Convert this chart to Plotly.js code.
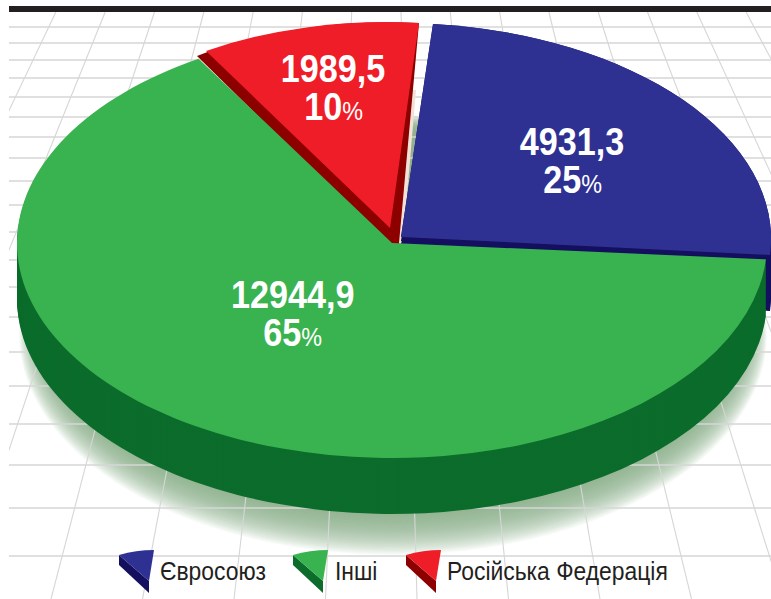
<!DOCTYPE html>
<html><head><meta charset="utf-8">
<script src="https://cdn.plot.ly/plotly-3.0.1.min.js"></script>
<style>html,body{margin:0;padding:0;background:#fff;overflow:hidden}</style>
</head><body><div id="chart" style="width:771px;height:599px"></div>
<script>
// ---- data ----
const categories = ['Євросоюз', 'Інші', 'Російська Федерація'];
const values = [4931.3, 12944.9, 1989.5];
const valueLabels = ['4931,3', '12944,9', '1989,5'];
const percentLabels = ['25', '65', '10'];
// ---- style ----
const topColors = ['#2e3192', '#39b34f', '#ef1d27'];
const sideColors = ['#14105f', '#0b6c2b', '#8c0000'];
const labelPos = [[572, 142, 180], [292, 295, 333], [333, 69, 107]];
const gridRows = [27,43,60,78,97,117,137,158,181,205,232,260,287,317,352,386,424,465,508,556];
const gridCols = [-8,-7,-6,-5,-4,-3,-2,-1,0,1,2,3,4,5,6,7,8];
const legendTextX = [160, 335, 447];
const iconX = [119, 293, 406];
const W = 771, H = 599, FONT = '"Liberation Sans",Arial,sans-serif';
const px = x => x / W, py = y => 1 - y / H;
const CLEAR = 'rgba(0,0,0,0)';
const ROT = 5;

function only(i, color) { return categories.map((_, k) => k === i ? color : CLEAR); }
function pie(colors, extra) {
  return Object.assign({
    type: 'pie', labels: categories, values: values, sort: false, direction: 'clockwise',
    rotation: ROT, textinfo: 'none', hoverinfo: 'skip', showlegend: false,
    marker: {colors: colors, line: {width: 0}}, domain: {x: [0, 1], y: [0, 1]}
  }, extra || {});
}
// slice boundary angles derived from the values
const total = values.reduce((a, b) => a + b, 0);
let acc = ROT; const bounds = values.map(v => { const a = acc; acc += v / total * 360; return [a, acc]; });
const unit = d => [Math.sin(d * Math.PI / 180), -Math.cos(d * Math.PI / 180)];
// linear map sending slice i's two edges onto the given vectors
function edgeMap(i, v1, v2) {
  const p1 = unit(bounds[i][0]), p2 = unit(bounds[i][1]);
  const det = p1[0] * p2[1] - p1[1] * p2[0];
  return {
    a: (v1[0] * p2[1] - v2[0] * p1[1]) / det, c: (v2[0] * p1[0] - v1[0] * p2[0]) / det,
    b: (v1[1] * p2[1] - v2[1] * p1[1]) / det, d: (v2[1] * p1[0] - v1[1] * p2[0]) / det
  };
}
const greenMap = {a: 375, b: 0, c: 0, d: 215};
const blueMap = edgeMap(0, [32, -213], [369, 18]);
const redMap = edgeMap(2, [-184, -177], [29, -205]);
const redWallMap = edgeMap(2, [-201, -198], [21, -231]);

const traces = [], placements = [];
function add(tr, x, y, m) { traces.push(tr); placements.push({x, y, m}); }
// legend-carrying base pie, tucked under the top faces
add(pie(topColors, {showlegend: true}), 393, 300, {a: 60, b: 0, c: 0, d: 40});
for (let o = 56; o >= 0; o -= 4) add(pie(only(0, sideColors[0])), 401, 237 + o, blueMap);
add(pie(only(2, sideColors[2])), 398, 254, redWallMap);
for (let o = 56; o > 0; o -= 2) add(pie(only(1, sideColors[1])), 392, 243 + o, greenMap);
add(pie(only(1, topColors[1])), 392, 243, greenMap);
add(pie(only(0, topColors[0])), 401, 237, blueMap);
add(pie(only(2, topColors[2])), 390, 228, redMap);

// ---- background ----
const shapes = [];
const haloSteps = 40;
for (let i = 0; i < haloSteps; i++) {
  const t = i / (haloSteps - 1), cx = 393, cy = 335 - 15 * t, rx = 374 - 24 * t, ry = 220 - 30 * t;
  shapes.push({type: 'circle', xref: 'paper', yref: 'paper', layer: 'below',
    x0: px(cx - rx), x1: px(cx + rx), y0: py(cy + ry), y1: py(cy - ry),
    fillcolor: 'rgba(130,170,128,0.05)', line: {width: 0}});
}
gridRows.forEach(y => shapes.push({type: 'line', xref: 'paper', yref: 'paper', layer: 'below',
  x0: px(9), x1: 1, y0: py(y), y1: py(y), line: {color: '#d6d6d6', width: 1.3}}));
gridCols.forEach(k => shapes.push({type: 'line', xref: 'paper', yref: 'paper', layer: 'below',
  x0: px(401 + 49.3 * k), x1: px(417 + 91.5 * k), y0: py(12), y1: py(599), line: {color: '#d6d6d6', width: 1.1}}));
shapes.push({type: 'rect', xref: 'paper', yref: 'paper', layer: 'below', x0: -0.01, x1: px(9), y0: -0.01, y1: 1.01,
  fillcolor: '#fff', line: {width: 0}});
shapes.push({type: 'rect', xref: 'paper', yref: 'paper', layer: 'below', x0: px(9), x1: 1.01, y0: py(12), y1: py(6),
  fillcolor: '#231f20', line: {width: 0}});
// pale sliver between the red wedge and the blue one
shapes.push({type: 'path', xref: 'paper', yref: 'paper', layer: 'below',
  path: 'M' + px(396) + ',' + py(243) + 'L' + px(403) + ',' + py(243) + 'L' + px(416) + ',' + py(90) + 'L' + px(412) + ',' + py(90) + 'Z',
  fillcolor: '#f3e0d6', line: {width: 0}});

// legend wedges
categories.forEach((_, i) => {
  const x = iconX[i], P = (dx, dy) => px(x + dx) + ',' + py(550 + dy);
  shapes.push({type: 'path', xref: 'paper', yref: 'paper', layer: 'above',
    path: 'M' + P(0, 5) + 'L' + P(0, 15) + 'L' + P(30, 43) + 'L' + P(30, 31) + 'Z',
    fillcolor: sideColors[i], line: {width: 0}});
  shapes.push({type: 'path', xref: 'paper', yref: 'paper', layer: 'above',
    path: 'M' + P(0, 5) + 'Q' + P(17, 0) + ' ' + P(35, 0) + 'L' + P(30, 31) + 'Z',
    fillcolor: topColors[i], line: {width: 0}});
});

// ---- labels ----
const annotations = [];
categories.forEach((_, i) => {
  const [x, y1, y2] = labelPos[i];
  const base = {xref: 'paper', yref: 'paper', showarrow: false, xanchor: 'center', yanchor: 'middle', x: px(x)};
  annotations.push(Object.assign({}, base, {y: py(y1), text: '<b>' + valueLabels[i] + '</b>',
    font: {family: FONT, size: 38, color: '#fff'}}));
  annotations.push(Object.assign({}, base, {y: py(y2),
    text: '<b>' + percentLabels[i] + '</b><span style="font-size:26px">%</span>',
    font: {family: FONT, size: 38, color: '#fff'}}));
});

const layout = {
  width: W, height: H, margin: {l: 0, r: 0, t: 0, b: 0}, paper_bgcolor: '#fff', plot_bgcolor: '#fff',
  showlegend: true, shapes, annotations,
  legend: {orientation: 'h', x: px(118), y: py(570), xanchor: 'left', yanchor: 'middle', traceorder: 'normal',
    bgcolor: CLEAR, font: {family: FONT, size: 26, color: '#231f20'}, itemwidth: 30, itemclick: false, itemdoubleclick: false},
  hovermode: false
};
const gd = document.getElementById('chart');
Plotly.newPlot(gd, traces, layout, {displayModeBar: false}).then(() => {
  const groups = gd.querySelectorAll('.pielayer .trace');
  groups.forEach((g, i) => {
    const c = gd.calcdata[i][0], p = placements[i], m = p.m, s = 1 / c.r;
    g.setAttribute('transform', 'translate(' + p.x + ',' + p.y + ') matrix(' +
      [m.a * s, m.b * s, m.c * s, m.d * s, 0, 0].join(',') + ') translate(' + (-c.cx) + ',' + (-c.cy) + ')');
  });
  gd.querySelectorAll('.legendpoints').forEach(e => e.style.display = 'none');
  // condensed look: squeeze real text horizontally
  gd.querySelectorAll('.annotation-text').forEach(t => {
    const b = t.getBBox(), c = b.x + b.width / 2;
    t.setAttribute('transform', 'translate(' + c + ',0) scale(0.9,1) translate(' + (-c) + ',0)');
  });
  gd.querySelectorAll('.legendtext').forEach((t, i) => {
    const b = t.getBBox(), r = t.getBoundingClientRect();
    const dx = legendTextX[i] - r.left;
    t.setAttribute('transform', 'translate(' + dx + ',0) translate(' + b.x + ',0) scale(0.88,1) translate(' + (-b.x) + ',0)');
  });
  const clip = gd.querySelector('.legend .scrollbox');
  if (clip) clip.removeAttribute('clip-path');
});
</script></body></html>
